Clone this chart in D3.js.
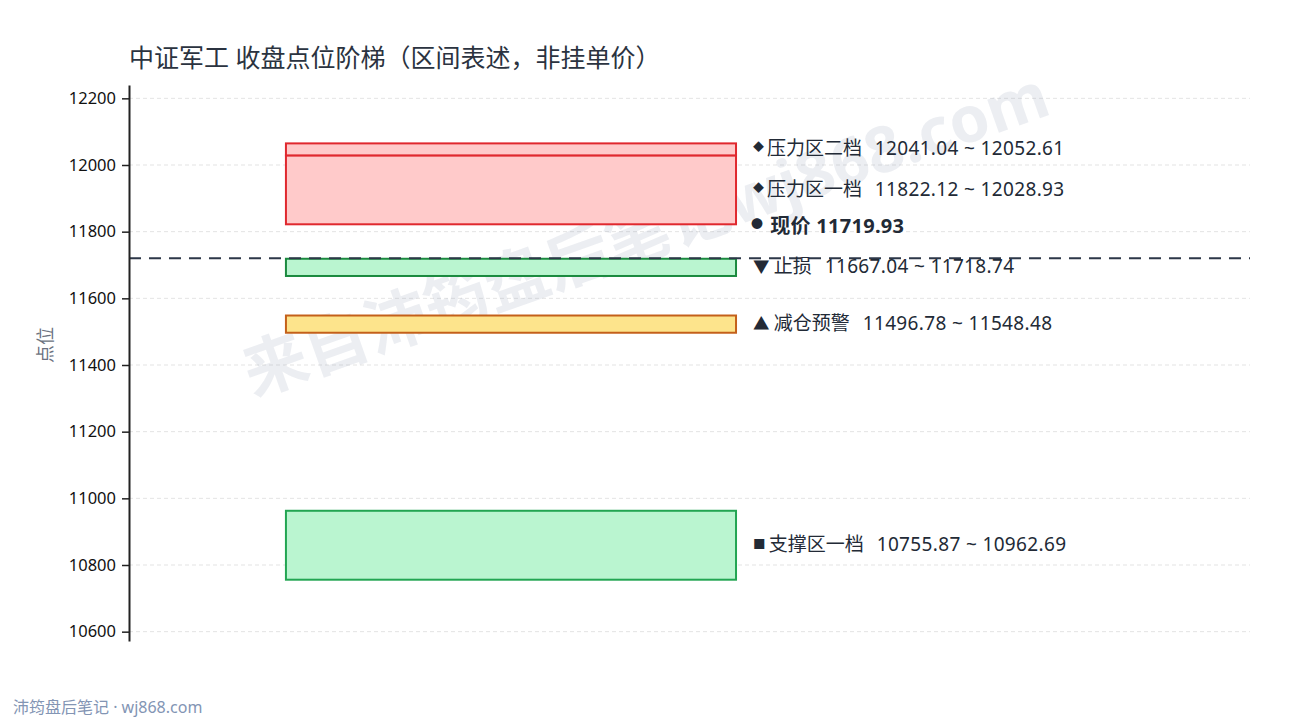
<!doctype html>
<html>
<head>
<meta charset="utf-8">
<title>中证军工 收盘点位阶梯</title>
<script src="https://cdn.jsdelivr.net/npm/d3@7"></script>
<style>
  body { margin: 0; background: #fff; }
  text { font-family: "Noto Sans", "Noto Sans CJK SC", sans-serif; }
</style>
</head>
<body>
<script>
// zones, top to bottom
var zoneNames = ['压力区二档', '压力区一档', '止损', '减仓预警', '支撑区一档'];
var zoneLow   = [12041.04, 11822.12, 11667.04, 11496.78, 10755.87];
var zoneHigh  = [12052.61, 12028.93, 11718.74, 11548.48, 10962.69];
var zoneKind  = ['resist', 'resist', 'stop', 'warn', 'support'];
var zoneIcon  = ['◆', '◆', '▼', '▲', '■'];
var price = 11719.93;
var yTicks = [10600, 10800, 11000, 11200, 11400, 11600, 11800, 12000, 12200];
var yDomain = [10572, 12240];

var colors = {
  resist:  {fill: '#ffcaca', stroke: '#e0282e'},
  stop:    {fill: '#baf5d0', stroke: '#1b8a3f'},
  warn:    {fill: '#fde48c', stroke: '#c4601a'},
  support: {fill: '#baf5d0', stroke: '#22a552'}
};

var W = 1290, H = 720;
var m = {left: 129, right: 40, top: 85, bottom: 79};
var sp = '\u00a0';

var svg = d3.select('body').append('svg')
    .attr('width', W)
    .attr('height', H);

var y = d3.scaleLinear().domain(yDomain).range([H - m.bottom, m.top]);
var x = d3.scaleLinear().domain([0, 1]).range([m.left, W - m.right]);

// grid
svg.append('g').selectAll('line').data(yTicks).enter().append('line')
    .attr('x1', x(0)).attr('x2', x(1))
    .attr('y1', function(d){ return y(d); })
    .attr('y2', function(d){ return y(d); })
    .attr('stroke', '#dcdcdc')
    .attr('stroke-width', 0.8)
    .attr('stroke-dasharray', '4,3');

// watermark
svg.append('text')
    .attr('transform', 'translate(645,232) rotate(-19.5)')
    .attr('text-anchor', 'middle')
    .attr('dominant-baseline', 'central')
    .attr('font-size', 64)
    .attr('font-weight', 'bold')
    .attr('fill', '#8e9ab0')
    .attr('fill-opacity', 0.17)
    .text('来自沛筠盘后笔记wj868.com');

// zone boxes (thin zones get a minimum height)
var minH = 12;
var zones = zoneNames.map(function(n, i){
  return {name: n, lo: zoneLow[i], hi: zoneHigh[i], kind: zoneKind[i], icon: zoneIcon[i]};
});
function boxTop(d){
  var h = y(d.lo) - y(d.hi);
  return h < minH ? (y(d.lo) + y(d.hi)) / 2 - minH / 2 : y(d.hi);
}
function boxH(d){ return Math.max(minH, y(d.lo) - y(d.hi)); }

svg.append('g').selectAll('rect').data(zones.slice().reverse()).enter().append('rect')
    .attr('x', x(0.14))
    .attr('width', x(0.5415) - x(0.14))
    .attr('y', boxTop)
    .attr('height', boxH)
    .attr('fill', function(d){ return colors[d.kind].fill; })
    .attr('stroke', function(d){ return colors[d.kind].stroke; })
    .attr('stroke-width', 2);

// current price line
svg.append('line')
    .attr('x1', x(0)).attr('x2', x(1))
    .attr('y1', y(price)).attr('y2', y(price))
    .attr('stroke', '#2d3748')
    .attr('stroke-width', 2)
    .attr('stroke-dasharray', '12,8');

// zone labels
var lx = x(0.5415) + 17;
var lab = svg.append('g').selectAll('text').data(zones).enter().append('text')
    .attr('x', lx)
    .attr('y', function(d){ return boxTop(d) + boxH(d) / 2 - 1; })
    .attr('dominant-baseline', 'central')
    .attr('font-size', 19)
    .attr('fill', '#222a36');
lab.append('tspan')
    .attr('font-size', function(d){ return d.icon == '◆' ? 11 : d.icon == '■' ? 12.5 : 16.5; })
    .attr('dy', function(d){ return d.icon == '◆' ? -2 : 0; })
    .text(function(d){ return d.icon + sp; });
lab.append('tspan')
    .attr('dy', function(d){ return d.icon == '◆' ? 2 : 0; })
    .text(function(d){ return d.name + sp + sp; });
lab.append('tspan')
    .attr('dx', 3)
    .attr('letter-spacing', 0.35)
    .text(function(d){ return d.lo.toFixed(2) + sp + '~' + sp + d.hi.toFixed(2); });

// price label, pushed up above the stop-loss label
var pl = svg.append('text')
    .attr('x', lx - 2)
    .attr('y', y(price) - 33)
    .attr('dominant-baseline', 'central')
    .attr('font-size', 20)
    .attr('font-weight', 'bold')
    .attr('fill', '#222a36');
pl.append('tspan').attr('font-size', 12).attr('dy', -1).text('●' + sp);
pl.append('tspan').attr('dy', 1).attr('dx', 4).attr('letter-spacing', 0.3).text('现价' + sp + price.toFixed(2));

// y axis
var yAxis = svg.append('g')
    .attr('transform', 'translate(' + m.left + ',0)')
    .call(d3.axisLeft(y).tickValues(yTicks).tickFormat(d3.format('d')).tickSize(7).tickSizeOuter(0));
yAxis.select('.domain').attr('stroke', '#222').attr('stroke-width', 2);
yAxis.selectAll('.tick line').attr('stroke', '#222').attr('stroke-width', 1.5);
yAxis.selectAll('.tick text')
    .attr('font-size', 16.5)
    .attr('fill', '#111')
    .attr('font-family', '"Noto Sans", sans-serif')
    .attr('x', -13);

// axis title
svg.append('text')
    .attr('transform', 'translate(45,' + (y(11460)) + ') rotate(-90)')
    .attr('text-anchor', 'middle')
    .attr('dominant-baseline', 'central')
    .attr('font-size', 18)
    .attr('fill', '#6b7280')
    .text('点位');

// title
svg.append('text')
    .attr('x', 129)
    .attr('y', 57)
    .attr('dominant-baseline', 'central')
    .attr('font-size', 25)
    .attr('fill', '#2b3340')
    .text('中证军工 收盘点位阶梯（区间表述，非挂单价）');

// footer
svg.append('text')
    .attr('x', 13)
    .attr('y', 707)
    .attr('dominant-baseline', 'central')
    .attr('font-size', 16)
    .attr('fill', '#8395b4')
    .text('沛筠盘后笔记 · wj868.com');
</script>
</body>
</html>
